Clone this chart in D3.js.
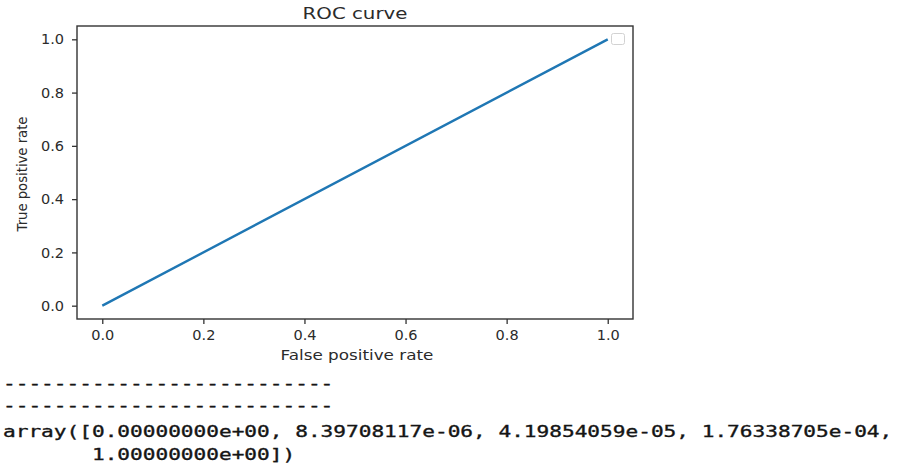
<!DOCTYPE html>
<html>
<head>
<meta charset="utf-8">
<script src="https://cdn.jsdelivr.net/npm/d3@7"></script>
<style>
  body { margin: 0; background: #ffffff; }
  svg { display: block; }
</style>
</head>
<body>
<div id="visArea"></div>
<script>

// roc values (fpr printed below the chart, tpr follows the diagonal)
var fpr = [0.0, 8.39708117e-06, 4.19854059e-05, 1.76338705e-04, 1.0];
var tpr = [0.0, 8.39708117e-06, 4.19854059e-05, 1.76338705e-04, 1.0];
var tickVals = [0.0, 0.2, 0.4, 0.6, 0.8, 1.0];
var printLines = [
  '--------------------------',
  '--------------------------',
  'array([0.00000000e+00, 8.39708117e-06, 4.19854059e-05, 1.76338705e-04,',
  '       1.00000000e+00])'
];

function drawChart(){
  var W = 897, H = 465;
  var left = 77, right = 633, top = 26, bottom = 319;

  var svg = d3.select('#visArea')
              .append('svg')
              .attr('width', W)
              .attr('height', H);

  var x = d3.scaleLinear().domain([-0.05, 1.05]).range([left, right]);
  var y = d3.scaleLinear().domain([-0.05, 1.05]).range([bottom, top]);

  var fmt = d3.format('.1f');

  // axes
  var xAxis = svg.append('g')
    .attr('transform', 'translate(0,' + bottom + ')')
    .call(d3.axisBottom(x).tickValues(tickVals).tickFormat(fmt).tickSize(5).tickPadding(6).tickSizeOuter(0));
  var yAxis = svg.append('g')
    .attr('transform', 'translate(' + left + ',0)')
    .call(d3.axisLeft(y).tickValues(tickVals).tickFormat(fmt).tickSize(5).tickPadding(8).tickSizeOuter(0));

  [xAxis, yAxis].forEach(function(a){
    a.select('.domain').remove();
    a.selectAll('.tick line').style('stroke', '#333').style('stroke-width', '1.3');
    a.selectAll('.tick text')
      .style('font-family', 'DejaVu Sans')
      .style('font-size', '14.5px')
      .style('fill', '#2b2b2b');
  });

  // spines
  svg.append('rect')
    .attr('x', left)
    .attr('y', top)
    .attr('width', right - left)
    .attr('height', bottom - top)
    .attr('fill', 'none')
    .style('stroke', '#333')
    .style('stroke-width', '1.4');

  // roc line
  var line = d3.line()
    .x(function(d, i){ return x(fpr[i]); })
    .y(function(d, i){ return y(tpr[i]); });
  svg.append('path')
    .datum(fpr)
    .attr('d', line)
    .attr('fill', 'none')
    .style('stroke', '#1f77b4')
    .style('stroke-width', '2.4');

  // empty legend
  svg.append('rect')
    .attr('x', 611.5)
    .attr('y', 33.5)
    .attr('width', 13)
    .attr('height', 11)
    .attr('rx', 2)
    .attr('fill', '#fff')
    .style('stroke', '#d2d2d2')
    .style('stroke-width', '1');

  // titles
  svg.append('text')
    .attr('transform', 'translate(355,19) scale(1.2,1)')
    .text('ROC curve')
    .style('text-anchor', 'middle')
    .style('font-family', 'DejaVu Sans')
    .style('font-size', '16.5px')
    .style('fill', '#2b2b2b');

  svg.append('text')
    .attr('transform', 'translate(357,360) scale(1.2,1)')
    .text('False positive rate')
    .style('text-anchor', 'middle')
    .style('font-family', 'DejaVu Sans')
    .style('font-size', '14px')
    .style('fill', '#2b2b2b');

  svg.append('text')
    .attr('transform', 'translate(27,174) rotate(-90)')
    .text('True positive rate')
    .style('text-anchor', 'middle')
    .style('font-family', 'DejaVu Sans')
    .style('font-size', '13.2px')
    .style('fill', '#2b2b2b');

  // printed output under the figure
  var baselines = [389, 411, 437, 460];
  var out = svg.append('g').attr('class', 'output');
  out.selectAll('text')
    .data(printLines)
    .enter()
    .append('text')
    .attr('transform', function(d, i){ return 'translate(3,' + baselines[i] + ') scale(1.32,1)'; })
    .attr('xml:space', 'preserve')
    .text(function(d){ return d; })
    .style('white-space', 'pre')
    .style('font-family', 'DejaVu Sans Mono')
    .style('font-size', '16px')
    .style('fill', '#151515')
    .style('stroke', '#151515')
    .style('stroke-width', '0.35');
}

drawChart();
</script>
</body>
</html>
